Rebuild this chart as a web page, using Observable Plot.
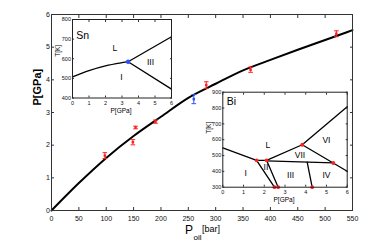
<!DOCTYPE html>
<html><head><meta charset="utf-8">
<script src="https://cdn.jsdelivr.net/npm/d3@7"></script>
<script src="https://cdn.jsdelivr.net/npm/@observablehq/plot@0.6"></script>
<style>
html,body{margin:0;padding:0;background:#fff;}
#chart{position:relative;width:390px;height:242px;overflow:hidden;background:#fff;}
#chart svg{position:absolute;left:0;top:0;}
</style></head><body><div id="chart"></div>
<script>
const NARROW = "'Liberation Sans Narrow','Arial Narrow','Liberation Sans',Arial,sans-serif";
const SANS = "'Liberation Sans',Arial,Helvetica,sans-serif";
const RED = "#ff2020";
const BLUE = "#2a4dff";
const intFmt = d3.format("d");

// ---- main chart data ----
const oilTicks = [0,50,100,150,200,250,300,350,400,450,500,550];
const gpaTicks = [0,1,2,3,4,5,6];
const fitOil = [0,50,100,150,200,250,300,350,400,450,500,550];
const fitGPa = [0,0.84,1.61,2.28,2.87,3.45,3.88,4.29,4.61,4.92,5.22,5.52];
const redOil = [97.5,148.7,153.6,190,282.8,363.8,520.5];
const redGPa = [1.68,2.09,2.54,2.72,3.84,4.31,5.41];
const redErr = [0.09,0.08,0.04,0.05,0.10,0.08,0.09];
const blueOil = [260];
const blueGPa = [3.41];
const blueErr = [0.14];

// ---- Sn inset data ----
const snTicksP = [0,1,2,3,4,5,6];
const snTicksT = [400,500,600,700,800];
const snMeltP = [0,1,2,3,3.37];
const snMeltT = [508,540,564,580,585];
const snLiqIIIP = [3.37,6];
const snLiqIIIT = [585,712];
const snIIIIP = [3.37,6];
const snIIIIT = [585,445];
const snTripleP = [3.37];
const snTripleT = [585];
const snLabels = ["L","I","III"];
const snLabelP = [2.56,2.97,4.73];
const snLabelT = [654,506,582];

// ---- Bi inset data ----
const biTicksP = [0,1,2,3,4,5,6];
const biTicksT = [300,400,500,600,700,800,900];
const biBoundaries = [
  [[0,548],[1.63,470]],
  [[1.63,470],[2.11,470]],
  [[2.11,470],[3.83,568]],
  [[3.83,568],[6,808]],
  [[3.83,568],[6,401]],
  [[2.11,466],[5.33,453]],
  [[1.63,470],[2.49,300]],
  [[2.11,470],[2.67,300]],
  [[4.07,458],[4.31,300]]
];
const biPointP = [1.63,2.11,3.83,5.33,2.49,2.67,4.31];
const biPointT = [470,470,568,453,300,300,300];
const biLabels = ["L","VII","VI","I","II","III","IV"];
const biLabelP = [2.17,3.72,5.0,1.1,2.08,3.27,5.0];
const biLabelT = [568,500,595,385,426,378,378];

const capSymbol = {draw(ctx, size){ const w = Math.sqrt(size); ctx.moveTo(-w,0); ctx.lineTo(w,0); }};

const chart = document.getElementById("chart");

// ---- main plot ----
const redData = redOil.map((x,i)=>({x, p: redGPa[i], e: redErr[i]}));
const blueData = blueOil.map((x,i)=>({x, p: blueGPa[i], e: blueErr[i]}));
function errMarks(data, color){
  return [
    Plot.ruleX(data, {x:"x", y1: d=>d.p-d.e, y2: d=>d.p+d.e, stroke: color, strokeWidth: 1}),
    Plot.dot(data, {x:"x", y: d=>d.p-d.e, symbol: capSymbol, r: 1.3, stroke: color, strokeWidth: 1}),
    Plot.dot(data, {x:"x", y: d=>d.p+d.e, symbol: capSymbol, r: 1.3, stroke: color, strokeWidth: 1}),
    Plot.dot(data, {x:"x", y:"p", symbol:"square", r: 1.4, fill: color, stroke: "none"})
  ];
}
const main = Plot.plot({
  width: 390, height: 242,
  marginLeft: 51, marginRight: 38, marginTop: 14, marginBottom: 32,
  style: {background: "transparent", fontFamily: NARROW, fontSize: "7px", color: "#111"},
  x: {domain: [0,550]},
  y: {domain: [0,6]},
  marks: [
    Plot.line(fitOil.map((x,i)=>({x, p: fitGPa[i]})), {x:"x", y:"p", stroke:"#000", strokeWidth: 2, curve: "monotone-x"}),
    ...errMarks(redData, RED),
    ...errMarks(blueData, BLUE),
    Plot.axisX({ticks: oilTicks, tickFormat: intFmt, anchor: "bottom", tickSize: -3, tickPadding: 8.5, label: null, stroke: "#333"}),
    Plot.axisX({ticks: oilTicks, anchor: "top", tickSize: -3, tickFormat: () => null, label: null, stroke: "#333"}),
    Plot.axisY({ticks: gpaTicks, tickFormat: intFmt, anchor: "left", tickSize: -3, tickPadding: 4.5, label: null, stroke: "#333"}),
    Plot.axisY({ticks: gpaTicks, anchor: "right", tickSize: -3, tickFormat: () => null, label: null, stroke: "#333"}),
    Plot.frame({stroke: "#333"}),
    Plot.text(["P[GPa]"], {frameAnchor: "left", text: d=>d, dx: -14, dy: -7, rotate: -90, fontSize: 11, fontWeight: "bold", fontFamily: SANS, fill: "#000"}),
    Plot.text(["P"], {frameAnchor: "bottom", text: d=>d, dx: -13, dy: 23.5, fontSize: 12, fontFamily: SANS, fill: "#000"}),
    Plot.text(["oil"], {frameAnchor: "bottom", text: d=>d, dx: -4.5, dy: 29.5, fontSize: 8, fontFamily: SANS, fill: "#000"}),
    Plot.text(["[bar]"], {frameAnchor: "bottom", text: d=>d, dx: 9, dy: 21.5, fontSize: 9, fontFamily: SANS, fill: "#000"})
  ]
});
chart.appendChild(main);

// ---- inset helper ----
function inset({left, right, top, bottom, xDomain, yDomain, xTicks, yTicks, marks, yTitleDx, yTitleDy}){
  return Plot.plot({
    width: 390, height: 242,
    marginLeft: left, marginRight: 390-right, marginTop: top, marginBottom: 242-bottom,
    style: {background: "transparent", fontFamily: NARROW, fontSize: "5.5px", color: "#111"},
    x: {domain: xDomain},
    y: {domain: yDomain},
    marks: [
      Plot.frame({fill: "white", stroke: "none"}),
      ...marks,
      Plot.axisX({ticks: xTicks, tickFormat: intFmt, anchor: "bottom", tickSize: -2, tickPadding: 5, label: null, stroke: "#333"}),
      Plot.axisX({ticks: xTicks, anchor: "top", tickSize: -2, tickFormat: () => null, label: null, stroke: "#333"}),
      Plot.axisY({ticks: yTicks, tickFormat: intFmt, anchor: "left", tickSize: -2, tickPadding: 3.5, label: null, stroke: "#333"}),
      Plot.axisY({ticks: yTicks, anchor: "right", tickSize: -2, tickFormat: () => null, label: null, stroke: "#333"}),
      Plot.frame({stroke: "#222"}),
      Plot.text(["P[GPa]"], {frameAnchor: "bottom", text: d=>d, dx: -1, dy: 14.5, fontSize: 6.5, fill: "#000"}),
      Plot.text(["T[K]"], {frameAnchor: "left", text: d=>d, dx: yTitleDx, dy: yTitleDy, rotate: -90, fontSize: 6.5, fill: "#000"})
    ]
  });
}

// ---- Sn inset ----
const snLines = [
  ...snMeltP.map((p,i)=>({p, t: snMeltT[i], z: "I-L"})),
  ...snLiqIIIP.map((p,i)=>({p, t: snLiqIIIT[i], z: "L-III"})),
  ...snIIIIP.map((p,i)=>({p, t: snIIIIT[i], z: "I-III"}))
];
const sn = inset({
  left: 72, right: 171, top: 19, bottom: 97.5,
  xDomain: [0,6], yDomain: [400,800], xTicks: snTicksP, yTicks: snTicksT,
  yTitleDx: -15, yTitleDy: -2,
  marks: [
    Plot.line(snLines, {x:"p", y:"t", z:"z", stroke:"#000", strokeWidth: 1.3, curve: "monotone-x"}),
    Plot.dot(snTripleP.map((p,i)=>({p, t: snTripleT[i]})), {x:"p", y:"t", r: 2.2, fill: BLUE, stroke: "none"}),
    Plot.text(snLabels.map((s,i)=>({s, p: snLabelP[i], t: snLabelT[i]})), {x:"p", y:"t", text:"s", fontSize: 8.5, fontFamily: SANS, fill:"#000"}),
    Plot.text(["Sn"], {x: () => 0.62, y: () => 718, text: d=>d, fontSize: 10.5, fontFamily: SANS, fill:"#000"})
  ]
});
chart.appendChild(sn);

// ---- Bi inset ----
const biLines = biBoundaries.flatMap((seg, k) => seg.map(([p,t]) => ({p, t, z: k})));
const bi = inset({
  left: 222.3, right: 346.7, top: 91.7, bottom: 186.7,
  xDomain: [0,6], yDomain: [300,900], xTicks: biTicksP, yTicks: biTicksT,
  yTitleDx: -14, yTitleDy: -6,
  marks: [
    Plot.line(biLines, {x:"p", y:"t", z:"z", stroke:"#000", strokeWidth: 1.3}),
    Plot.dot(biPointP.map((p,i)=>({p, t: biPointT[i]})), {x:"p", y:"t", r: 1.9, fill: RED, stroke: "none"}),
    Plot.text(biLabels.map((s,i)=>({s, p: biLabelP[i], t: biLabelT[i]})), {x:"p", y:"t", text:"s", fontSize: 8.5, fontFamily: SANS, fill:"#000"}),
    Plot.text(["Bi"], {x: () => 0.42, y: () => 842, text: d=>d, fontSize: 10.5, fontFamily: SANS, fill:"#000"})
  ]
});
chart.appendChild(bi);
</script></body></html>
